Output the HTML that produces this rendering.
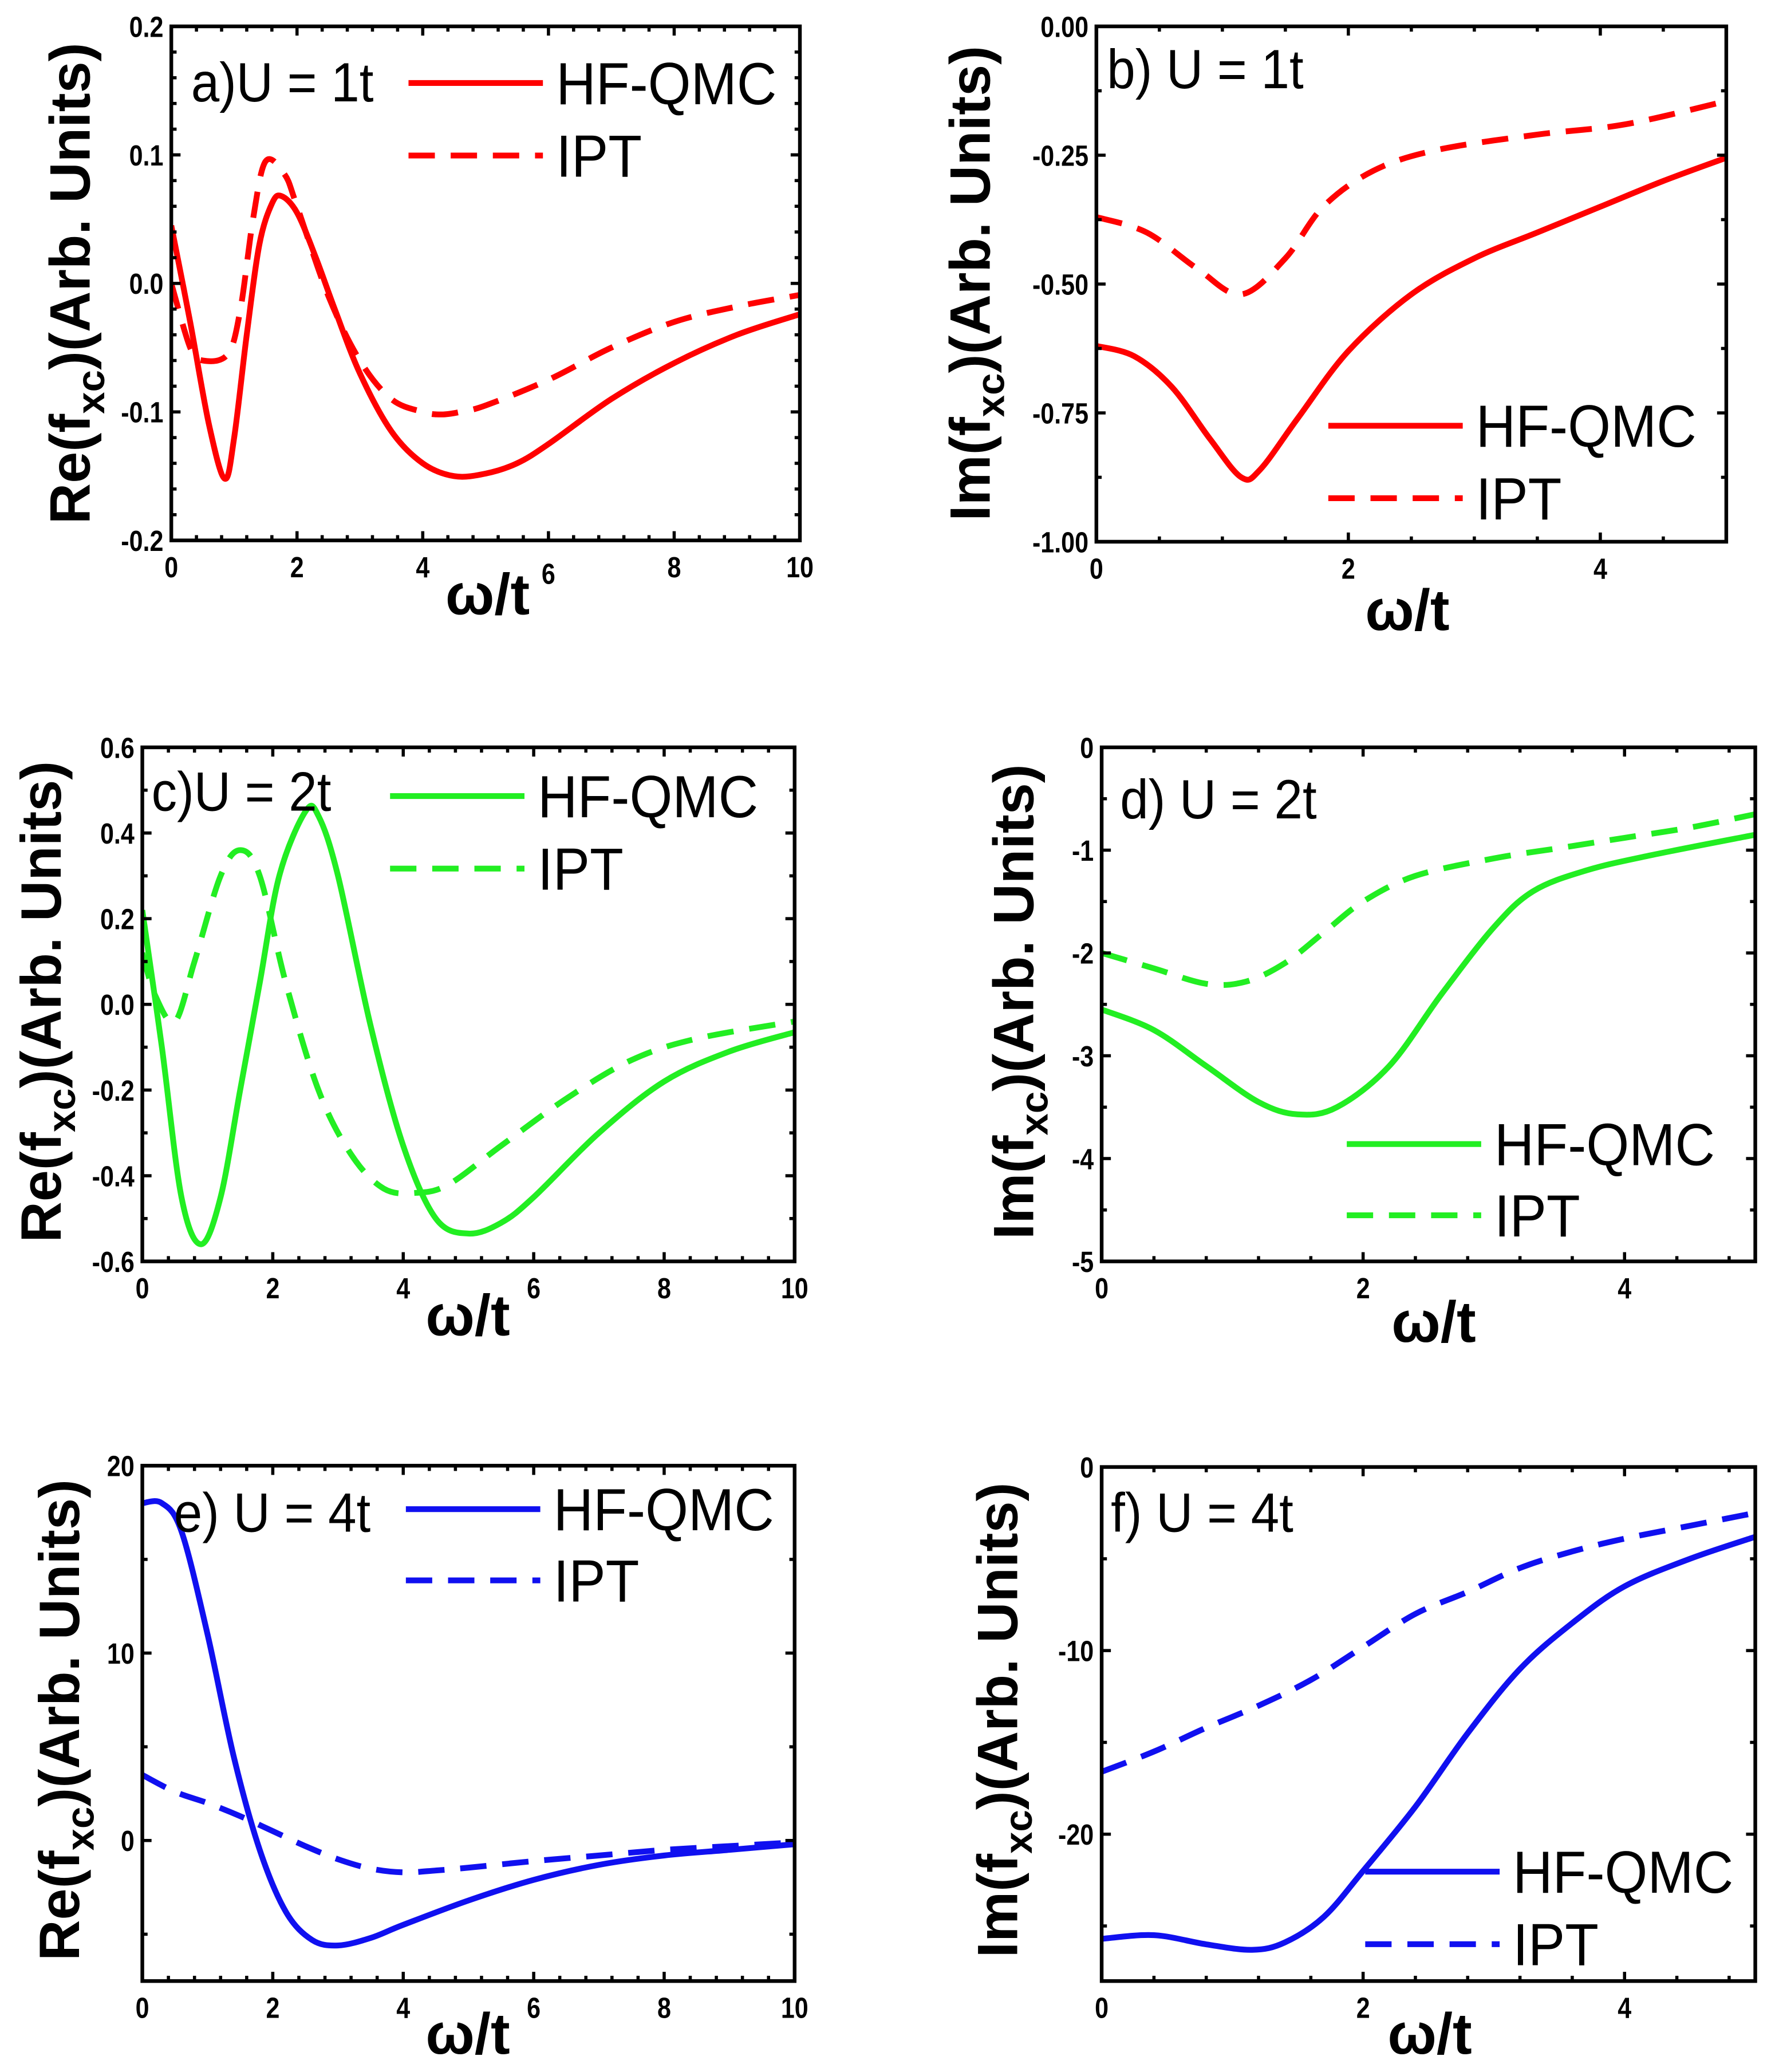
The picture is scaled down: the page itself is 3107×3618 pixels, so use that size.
<!DOCTYPE html>
<html><head><meta charset="utf-8"><style>
html,body{margin:0;padding:0;background:#fff;}
svg{display:block;}
text{font-family:"Liberation Sans",sans-serif;}
</style></head><body>
<svg id="fig" xmlns="http://www.w3.org/2000/svg" width="3107" height="3618" viewBox="0 0 1350 1572" preserveAspectRatio="none"></svg>
<script>
// ---- data ----
const aX_qmc=[0,0.3,0.6,0.85,1.0,1.2,1.4,1.6,1.75,2.0,2.3,2.6,3.0,3.5,4.0,4.5,5,5.5,6,7,8,9,10];
const aY_qmc=[0.045,-0.03,-0.11,-0.152,-0.12,-0.04,0.03,0.062,0.068,0.055,0.02,-0.02,-0.07,-0.115,-0.14,-0.15,-0.148,-0.14,-0.125,-0.09,-0.062,-0.04,-0.024];
const aX_ipt=[0,0.3,0.5,0.9,1.1,1.3,1.5,1.8,2.0,2.5,3,3.5,4,4.3,4.6,5,6,7,8,9,10];
const aY_ipt=[0.0,-0.05,-0.06,-0.055,-0.02,0.05,0.095,0.085,0.06,-0.01,-0.06,-0.09,-0.1,-0.102,-0.1,-0.095,-0.075,-0.05,-0.03,-0.018,-0.009];
const bX_qmc=[0,0.3,0.6,0.9,1.15,1.3,1.6,2,2.5,3,3.5,4,4.5,5];
const bY_qmc=[-0.62,-0.64,-0.7,-0.8,-0.875,-0.86,-0.76,-0.63,-0.52,-0.45,-0.40,-0.35,-0.30,-0.255];
const bX_ipt=[0,0.4,0.8,1.15,1.5,1.8,2.2,2.7,3.5,4.2,5];
const bY_ipt=[-0.37,-0.40,-0.47,-0.52,-0.45,-0.35,-0.28,-0.24,-0.21,-0.19,-0.145];
const cX_qmc=[0,0.3,0.6,0.9,1.2,1.5,1.8,2.1,2.5,2.7,3,3.5,4,4.5,5,5.5,6,7,8,9,10];
const cY_qmc=[0.22,-0.1,-0.45,-0.56,-0.45,-0.2,0.05,0.3,0.45,0.44,0.3,-0.05,-0.33,-0.5,-0.535,-0.51,-0.45,-0.3,-0.18,-0.11,-0.065];
const cX_ipt=[0,0.2,0.5,0.8,1.2,1.5,1.8,2.2,2.7,3.2,3.7,4.2,4.7,5.5,6.5,7.5,8.5,10];
const cY_ipt=[0.12,0.02,-0.04,0.1,0.3,0.36,0.3,0.05,-0.2,-0.35,-0.43,-0.44,-0.42,-0.33,-0.22,-0.13,-0.08,-0.04];
const dX_qmc=[0,0.4,0.8,1.2,1.5,1.8,2.2,2.6,3,3.3,3.7,4.2,5];
const dY_qmc=[-2.55,-2.75,-3.1,-3.45,-3.57,-3.5,-3.1,-2.4,-1.75,-1.4,-1.2,-1.05,-0.85];
const dX_ipt=[0,0.4,0.8,1.1,1.4,1.7,2.0,2.4,3,3.5,4,4.5,5];
const dY_ipt=[-2.0,-2.15,-2.3,-2.28,-2.1,-1.8,-1.5,-1.25,-1.08,-0.98,-0.88,-0.78,-0.65];
const eX_qmc=[0,0.3,0.6,1,1.4,1.8,2.2,2.6,3,3.5,4,5,6,7,8,9,10];
const eY_qmc=[18,18,16.5,11,4.5,-0.5,-3.8,-5.3,-5.6,-5.2,-4.5,-3.2,-2.1,-1.3,-0.8,-0.5,-0.2];
const eX_ipt=[0,0.5,1,1.5,2,2.5,3,3.5,4,4.5,5,6,7,8,9,10];
const eY_ipt=[3.5,2.6,2,1.3,0.5,-0.3,-1,-1.5,-1.7,-1.6,-1.45,-1.1,-0.8,-0.5,-0.3,-0.1];
const fX_qmc=[0,0.4,0.8,1.15,1.4,1.7,2,2.4,2.8,3.2,3.6,4,4.5,5];
const fY_qmc=[-25.7,-25.5,-26,-26.3,-25.9,-24.5,-22,-18.5,-14.5,-11,-8.5,-6.5,-5,-3.8];
const fX_ipt=[0,0.4,0.8,1.2,1.6,2,2.4,2.8,3.2,3.6,4,4.5,5];
const fY_ipt=[-16.6,-15.5,-14.2,-13,-11.6,-9.8,-8,-6.8,-5.5,-4.6,-3.9,-3.2,-2.5];
const aYticks=["0.2","0.1","0.0","-0.1","-0.2"];
const bYticks=["0.00","-0.25","-0.50","-0.75","-1.00"];
const cYticks=["0.6","0.4","0.2","0.0","-0.2","-0.4","-0.6"];
const dYticks=["0","-1","-2","-3","-4","-5"];
const eYticks=["20","10","0"];
const fYticks=["0","-10","-20"];
const xTicks10=["0","2","4","6","8","10"];
const xTicks5=["0","2","4"];

const NS="http://www.w3.org/2000/svg";
const svg=document.getElementById('fig');
function mk(tag,attrs,parent){const e=document.createElementNS(NS,tag);for(const k in attrs)e.setAttribute(k,attrs[k]);(parent||svg).appendChild(e);return e;}

function smoothPath(pts){
  let d="M"+pts[0][0].toFixed(2)+","+pts[0][1].toFixed(2);
  for(let i=0;i<pts.length-1;i++){
    const p0=pts[Math.max(0,i-1)],p1=pts[i],p2=pts[i+1],p3=pts[Math.min(pts.length-1,i+2)];
    const c1=[p1[0]+(p2[0]-p0[0])/6,p1[1]+(p2[1]-p0[1])/6];
    const c2=[p2[0]-(p3[0]-p1[0])/6,p2[1]-(p3[1]-p1[1])/6];
    d+=" C"+c1[0].toFixed(2)+","+c1[1].toFixed(2)+" "+c2[0].toFixed(2)+","+c2[1].toFixed(2)+" "+p2[0].toFixed(2)+","+p2[1].toFixed(2);
  }
  return d;
}
// condensed text helper: draws text at (x,y) with horizontal squeeze
function ctext(g,x,y,size,weight,anchor,sq,str){
  const t=mk('text',{x:0,y:0,'font-size':size,'font-weight':weight,'text-anchor':anchor,transform:'translate('+x+','+y+') scale('+sq+',1)'},g);
  t.textContent=str;
  return t;
}

function panel(p){
  const g=mk('g',{});
  
  
  const sx=v=>p.x0+(v-p.xmin)/(p.xmax-p.xmin)*(p.x1-p.x0);
  const sy=v=>p.y1-(v-p.ymin)/(p.ymax-p.ymin)*(p.y1-p.y0);
  const cid='clip-'+p.id;
  const cp=mk('clipPath',{id:cid},g);
  mk('rect',{x:p.x0,y:p.y0,width:p.x1-p.x0,height:p.y1-p.y0},cp);
  const series=[[p.qx,p.qy,'none','hf-qmc-curve'],[p.ix,p.iy,'20 12','ipt-curve']];
  for(const s of series){
    const pts=s[0].map((x,i)=>[sx(x),sy(s[1][i])]);
    const path=mk('path',{d:smoothPath(pts),fill:'none',stroke:p.color,'stroke-width':4.4,'stroke-dasharray':s[2],'clip-path':'url(#'+cid+')'},g);
    
    
  }
  const fr=mk('rect',{x:p.x0,y:p.y0,width:p.x1-p.x0,height:p.y1-p.y0,fill:'none',stroke:'#000','stroke-width':2.8},g);
  
  
  const xstep=2, xminor=xstep/p.xsub;
  for(let v=p.xmin;v<=p.xmax+1e-9;v+=xminor){
    const X=sx(v);const major=Math.abs(v/xstep-Math.round(v/xstep))<1e-6;const L=major?7:4;
    mk('line',{x1:X,y1:p.y1,x2:X,y2:p.y1-L,stroke:'#000','stroke-width':2.4},g);
    mk('line',{x1:X,y1:p.y0,x2:X,y2:p.y0+L,stroke:'#000','stroke-width':2.4},g);
  }
  p.xt.forEach((t,i)=>{
    const v=parseFloat(t);
    const tx=ctext(g,sx(v),p.y1+p.xlabOff[i%p.xlabOff.length],22,'bold','middle',0.85,t);
    
    
  });
  const nY=p.yt.length;
  const ystep=(p.ymaxT-p.yminT)/(nY-1);
  const yminor=ystep/p.ysub;
  for(let v=p.ymax;v>=p.ymin-1e-9;v-=yminor){
    const Y=sy(v);const k=(p.ymaxT-v)/ystep;const major=Math.abs(k-Math.round(k))<1e-6;const L=major?7:4;
    mk('line',{x1:p.x0,y1:Y,x2:p.x0+L,y2:Y,stroke:'#000','stroke-width':2.4},g);
    mk('line',{x1:p.x1,y1:Y,x2:p.x1-L,y2:Y,stroke:'#000','stroke-width':2.4},g);
  }
  p.yt.forEach((t,i)=>{
    const v=p.ymaxT-i*ystep;
    const ty=ctext(g,p.x0-6,sy(v)+8,22,'bold','end',0.85,t);
    
    
  });
  const xt=mk('text',{x:p.xtx,y:p.xty,'font-size':44,'font-weight':'bold','text-anchor':'middle'},g);
  xt.textContent='ω/t';
  
  
  const yt=mk('text',{x:0,y:0,'font-size':43,'font-weight':'bold','text-anchor':'middle',transform:'translate('+p.ytx+','+p.yty+') rotate(-90)'},g);
  yt.innerHTML=p.ypre+'(f<tspan font-size="30" dy="11">xc</tspan><tspan dy="-11">)(Arb. Units)</tspan>';
  
  
  const pl=ctext(g,p.lx,p.ly,42,'normal','start',0.92,p.label);
  
  
  const leg=[['HF-QMC','none',p.legY1],['IPT','20 12',p.legY2]];
  for(const l of leg){
    const ln=mk('line',{x1:p.legX,y1:l[2],x2:p.legX+102,y2:l[2],stroke:p.color,'stroke-width':4.4,'stroke-dasharray':l[1]},g);
    
    
    const lt=ctext(g,p.legX+112,l[2]+16,45,'normal','start',0.93,l[0]);
    
    
  }
}

const RED='#ff0000',GREEN='#22ee22',BLUE='#1010f0';
panel({id:'a',x0:130,x1:607,y0:20,y1:410,xmin:0,xmax:10,ymin:-0.2,ymax:0.2,yminT:-0.2,ymaxT:0.2,xsub:5,ysub:5,
  qx:aX_qmc,qy:aY_qmc,ix:aX_ipt,iy:aY_ipt,color:RED,xt:xTicks10,xlabOff:[28,28,28,33,28,28],yt:aYticks,
  xtx:370,xty:466,ytx:68,yty:215,ypre:'Re',label:'a)U = 1t',lx:145,ly:77,legX:310,legY1:63,legY2:118});
panel({id:'b',x0:832,x1:1310,y0:20,y1:411,xmin:0,xmax:5,ymin:-1,ymax:0,yminT:-1,ymaxT:0,xsub:4,ysub:2,
  qx:bX_qmc,qy:bY_qmc,ix:bX_ipt,iy:bY_ipt,color:RED,xt:xTicks5,xlabOff:[28],yt:bYticks,
  xtx:1068,xty:478,ytx:751,yty:215,ypre:'Im',label:'b) U = 1t',lx:840,ly:67,legX:1008,legY1:323,legY2:378});
panel({id:'c',x0:108,x1:603,y0:567,y1:957,xmin:0,xmax:10,ymin:-0.6,ymax:0.6,yminT:-0.6,ymaxT:0.6,xsub:5,ysub:2,
  qx:cX_qmc,qy:cY_qmc,ix:cX_ipt,iy:cY_ipt,color:GREEN,xt:xTicks10,xlabOff:[28,28,28,28,28,28],yt:cYticks,
  xtx:355,xty:1013,ytx:46,yty:760,ypre:'Re',label:'c)U = 2t',lx:115,ly:615,legX:296,legY1:604,legY2:659});
panel({id:'d',x0:836,x1:1332,y0:567,y1:957,xmin:0,xmax:5,ymin:-5,ymax:0,yminT:-5,ymaxT:0,xsub:5,ysub:2,
  qx:dX_qmc,qy:dY_qmc,ix:dX_ipt,iy:dY_ipt,color:GREEN,xt:xTicks5,xlabOff:[28],yt:dYticks,
  xtx:1088,xty:1018,ytx:784,yty:760,ypre:'Im',label:'d) U = 2t',lx:850,ly:621,legX:1022,legY1:868,legY2:922});
panel({id:'e',x0:108,x1:603,y0:1112,y1:1503,xmin:0,xmax:10,ymin:-7.5,ymax:20,yminT:0,ymaxT:20,xsub:5,ysub:2,
  qx:eX_qmc,qy:eY_qmc,ix:eX_ipt,iy:eY_ipt,color:BLUE,xt:xTicks10,xlabOff:[28,28,28,28,28,28],yt:eYticks,
  xtx:355,xty:1558,ytx:60,yty:1305,ypre:'Re',label:'e) U = 4t',lx:132,ly:1162,legX:308,legY1:1145,legY2:1199});
panel({id:'f',x0:836,x1:1332,y0:1113,y1:1503,xmin:0,xmax:5,ymin:-28,ymax:0,yminT:-20,ymaxT:0,xsub:5,ysub:2,
  qx:fX_qmc,qy:fY_qmc,ix:fX_ipt,iy:fY_ipt,color:BLUE,xt:xTicks5,xlabOff:[28],yt:fYticks,
  xtx:1085,xty:1558,ytx:772,yty:1305,ypre:'Im',label:'f) U = 4t',lx:843,ly:1162,legX:1036,legY1:1420,legY2:1475});
</script>
</body></html>
